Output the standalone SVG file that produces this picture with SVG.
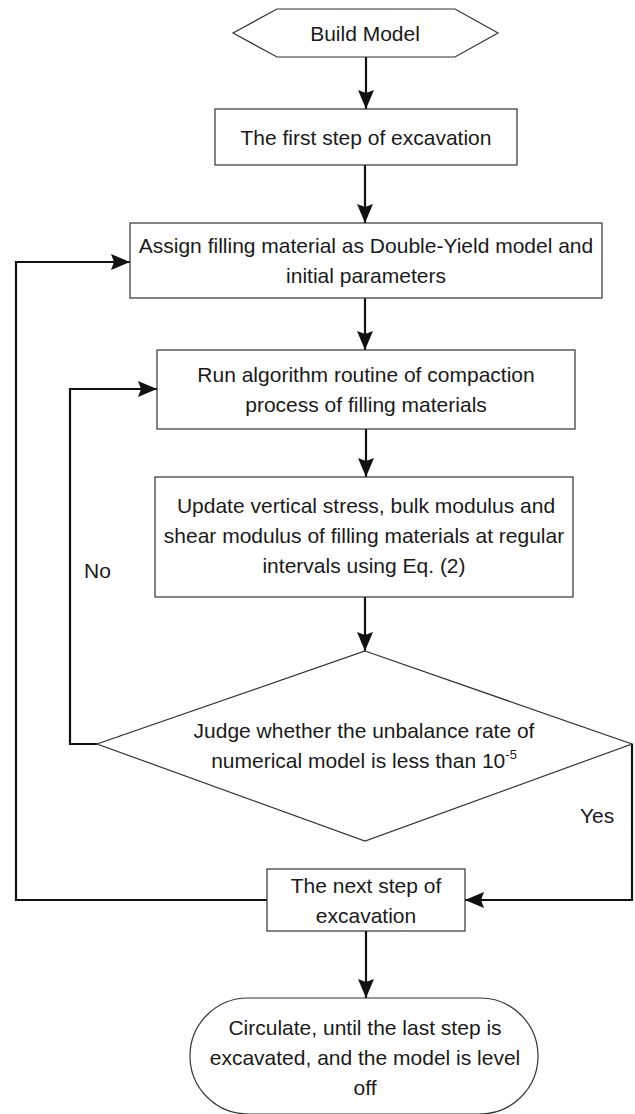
<svg xmlns="http://www.w3.org/2000/svg" width="635" height="1114" viewBox="0 0 635 1114">
<style>
.shape{fill:#fff;stroke:#333;stroke-width:1.2}
.conn{fill:none;stroke:#111;stroke-width:2.2}
text{font-family:"Liberation Sans",Arial,Helvetica,sans-serif;font-size:21px;fill:#1a1a1a;text-anchor:middle}
.lbl{text-anchor:start}
</style>
<defs>
<marker id="arr" markerUnits="userSpaceOnUse" markerWidth="19" markerHeight="16" viewBox="0 0 19 16" refX="19" refY="8" orient="auto">
<path d="M0,0 L19,8 L0,16 L3,8 z" fill="#111"/>
</marker>
</defs>
<rect width="635" height="1114" fill="#fff"/>
<g id="connectors">
<line class="conn" x1="366" y1="57" x2="366" y2="109" marker-end="url(#arr)"/>
<line class="conn" x1="365" y1="165" x2="365" y2="223" marker-end="url(#arr)"/>
<line class="conn" x1="365" y1="298" x2="365" y2="350" marker-end="url(#arr)"/>
<line class="conn" x1="366" y1="429" x2="366" y2="477" marker-end="url(#arr)"/>
<line class="conn" x1="365" y1="597" x2="365" y2="651" marker-end="url(#arr)"/>
<polyline class="conn" points="97,744 70,744 70,389 157,389" marker-end="url(#arr)"/>
<polyline class="conn" points="632,744 632,900 465,900" marker-end="url(#arr)"/>
<polyline class="conn" points="267,900 16,900 16,262 130,262" marker-end="url(#arr)"/>
<line class="conn" x1="366" y1="931" x2="366" y2="998" marker-end="url(#arr)"/>
<text class="lbl" x="84" y="578">No</text>
<text class="lbl" x="580" y="823">Yes</text>
</g>
<g id="start">
<polygon class="shape" points="233,33 277,9 455,9 498,33 455,57 277,57"/>
<text x="365" y="41">Build Model</text>
</g>
<g id="step1">
<rect class="shape" x="215" y="109" width="302" height="56"/>
<text x="366" y="145">The first step of excavation</text>
</g>
<g id="assign">
<rect class="shape" x="130" y="223" width="472" height="75"/>
<text x="366" y="253">Assign filling material as Double-Yield model and</text>
<text x="366" y="283">initial parameters</text>
</g>
<g id="run">
<rect class="shape" x="157" y="350" width="418" height="79"/>
<text x="366" y="382">Run algorithm routine of compaction</text>
<text x="366" y="412">process of filling materials</text>
</g>
<g id="update">
<rect class="shape" x="155" y="477" width="418" height="120"/>
<text x="366" y="513">Update vertical stress, bulk modulus and</text>
<text x="364" y="543">shear modulus of filling materials at regular</text>
<text x="364" y="573">intervals using Eq. (2)</text>
</g>
<g id="judge">
<polygon class="shape" points="365,651 632,744 365,841 97,744"/>
<text x="364" y="738">Judge whether the unbalance rate of</text>
<text x="364" y="768">numerical model is less than 10<tspan font-size="13" dy="-9">-5</tspan></text>
</g>
<g id="next">
<rect class="shape" x="267" y="869" width="198" height="62"/>
<text x="366" y="893">The next step of</text>
<text x="366" y="923">excavation</text>
</g>
<g id="end">
<rect class="shape" x="190" y="998" width="348" height="116" rx="58" ry="58"/>
<text x="365" y="1035">Circulate, until the last step is</text>
<text x="365" y="1065">excavated, and the model is level</text>
<text x="365" y="1095">off</text>
</g>
</svg>
